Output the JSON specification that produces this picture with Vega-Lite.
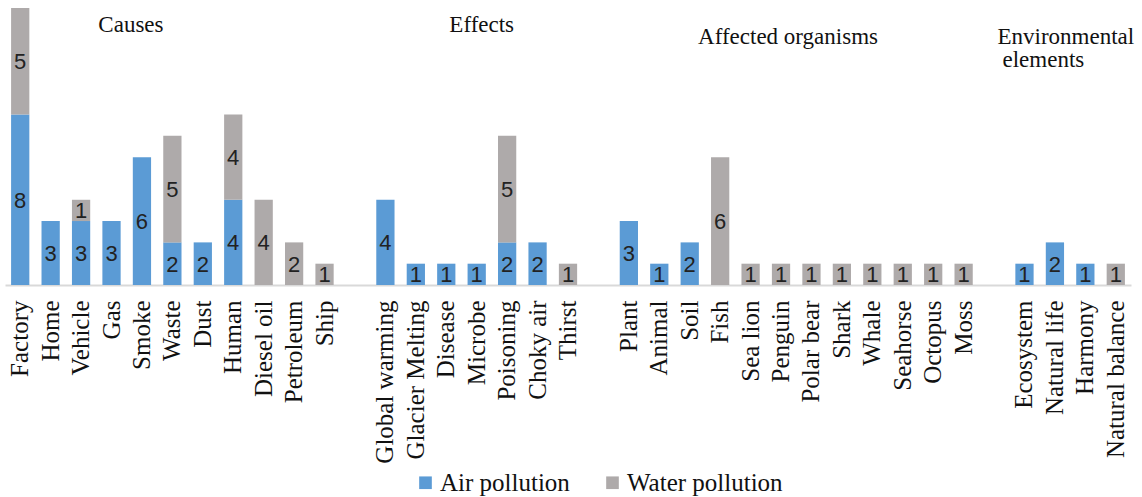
{
  "$schema": "https://vega.github.io/schema/vega-lite/v6.json",
  "width": 1126,
  "height": 277,
  "autosize": {"type": "none"},
  "padding": {"left": 5, "top": 8, "right": 11, "bottom": 212},
  "config": {
    "view": {"stroke": null},
    "font": "Liberation Serif",
    "legend": {"labelFont": "Liberation Serif", "labelFontSize": 25}
  },
  "datasets": {
    "counts": [
      {"item": "Factory", "type": "Air pollution", "value": 8},
      {"item": "Factory", "type": "Water pollution", "value": 5},
      {"item": "Home", "type": "Air pollution", "value": 3},
      {"item": "Vehicle", "type": "Air pollution", "value": 3},
      {"item": "Vehicle", "type": "Water pollution", "value": 1},
      {"item": "Gas", "type": "Air pollution", "value": 3},
      {"item": "Smoke", "type": "Air pollution", "value": 6},
      {"item": "Waste", "type": "Air pollution", "value": 2},
      {"item": "Waste", "type": "Water pollution", "value": 5},
      {"item": "Dust", "type": "Air pollution", "value": 2},
      {"item": "Human", "type": "Air pollution", "value": 4},
      {"item": "Human", "type": "Water pollution", "value": 4},
      {"item": "Diesel oil", "type": "Water pollution", "value": 4},
      {"item": "Petroleum", "type": "Water pollution", "value": 2},
      {"item": "Ship", "type": "Water pollution", "value": 1},
      {"item": "Global warming", "type": "Air pollution", "value": 4},
      {"item": "Glacier Melting", "type": "Air pollution", "value": 1},
      {"item": "Disease", "type": "Air pollution", "value": 1},
      {"item": "Microbe", "type": "Air pollution", "value": 1},
      {"item": "Poisoning", "type": "Air pollution", "value": 2},
      {"item": "Poisoning", "type": "Water pollution", "value": 5},
      {"item": "Choky air", "type": "Air pollution", "value": 2},
      {"item": "Thirst", "type": "Water pollution", "value": 1},
      {"item": "Plant", "type": "Air pollution", "value": 3},
      {"item": "Animal", "type": "Air pollution", "value": 1},
      {"item": "Soil", "type": "Air pollution", "value": 2},
      {"item": "Fish", "type": "Water pollution", "value": 6},
      {"item": "Sea lion", "type": "Water pollution", "value": 1},
      {"item": "Penguin", "type": "Water pollution", "value": 1},
      {"item": "Polar bear", "type": "Water pollution", "value": 1},
      {"item": "Shark", "type": "Water pollution", "value": 1},
      {"item": "Whale", "type": "Water pollution", "value": 1},
      {"item": "Seahorse", "type": "Water pollution", "value": 1},
      {"item": "Octopus", "type": "Water pollution", "value": 1},
      {"item": "Moss", "type": "Water pollution", "value": 1},
      {"item": "Ecosystem", "type": "Air pollution", "value": 1},
      {"item": "Natural life", "type": "Air pollution", "value": 2},
      {"item": "Harmony", "type": "Air pollution", "value": 1},
      {"item": "Natural balance", "type": "Water pollution", "value": 1}
    ],
    "causes": [{"item": "Smoke", "pos": 12.2, "label": "Causes"}],
    "effects": [{"item": "Microbe", "pos": 12.2, "label": "Effects"}],
    "organisms": [{"item": "Penguin", "pos": 11.65, "label": "Affected organisms"}],
    "env1": [{"item": "Ecosystem", "pos": 11.65, "label": "Environmental"}],
    "env2": [{"item": "Ecosystem", "pos": 10.55, "label": "elements"}]
  },
  "encoding": {
    "x": {
      "field": "item",
      "type": "nominal",
      "sort": null,
      "scale": {
        "domain": ["Factory", "Home", "Vehicle", "Gas", "Smoke", "Waste", "Dust", "Human", "Diesel oil", "Petroleum", "Ship", " ", "Global warming", "Glacier Melting", "Disease", "Microbe", "Poisoning", "Choky air", "Thirst", "  ", "Plant", "Animal", "Soil", "Fish", "Sea lion", "Penguin", "Polar bear", "Shark", "Whale", "Seahorse", "Octopus", "Moss", "   ", "Ecosystem", "Natural life", "Harmony", "Natural balance"],
        "paddingInner": 0.4,
        "paddingOuter": 0.2
      },
      "axis": {
        "title": null,
        "ticks": false,
        "labelAngle": -90,
        "labelFont": "Liberation Serif",
        "labelFontSize": 25,
        "labelColor": "#111111",
        "labelPadding": 15,
        "labelOverlap": false,
        "labelLimit": 0,
        "domainColor": "#D9D9D9",
        "domainWidth": 2,
        "grid": false
      }
    }
  },
  "layer": [
    {
      "data": {"name": "counts"},
      "mark": {"type": "bar"},
      "encoding": {
        "y": {"field": "value", "type": "quantitative", "stack": "zero", "scale": {"domain": [0, 13], "nice": false, "zero": true}, "axis": null},
        "color": {
          "field": "type",
          "type": "nominal",
          "scale": {"domain": ["Air pollution", "Water pollution"], "range": ["#5B9BD5", "#AEAAAA"]},
          "legend": {
            "orient": "none",
            "legendX": 408,
            "legendY": 462,
            "direction": "horizontal",
            "title": null,
            "symbolType": "square",
            "symbolSize": 160,
            "symbolStrokeWidth": 0,
            "labelFont": "Liberation Serif",
            "labelFontSize": 25,
            "labelColor": "#111111",
            "labelOffset": 2,
            "columnPadding": 30,
            "padding": 0,
            "labelLimit": 0
          }
        },
        "order": {"field": "type", "sort": "ascending"}
      }
    },
    {
      "data": {"name": "counts"},
      "mark": {"type": "text", "font": "Liberation Sans", "fontSize": 22, "color": "#222222", "baseline": "middle", "dy": 1},
      "encoding": {
        "y": {"field": "value", "type": "quantitative", "stack": "zero", "bandPosition": 0.5},
        "detail": {"field": "type"},
        "order": {"field": "type", "sort": "ascending"},
        "text": {"field": "value", "type": "quantitative"}
      }
    },
    {
      "data": {"name": "causes"},
      "mark": {"type": "text", "fontSize": 23, "color": "#111111", "baseline": "middle", "align": "center", "dx": -11},
      "encoding": {"y": {"field": "pos", "type": "quantitative"}, "text": {"field": "label"}}
    },
    {
      "data": {"name": "effects"},
      "mark": {"type": "text", "fontSize": 23, "color": "#111111", "baseline": "middle", "align": "center", "dx": 5},
      "encoding": {"y": {"field": "pos", "type": "quantitative"}, "text": {"field": "label"}}
    },
    {
      "data": {"name": "organisms"},
      "mark": {"type": "text", "fontSize": 23, "color": "#111111", "baseline": "middle", "align": "center", "dx": 7},
      "encoding": {"y": {"field": "pos", "type": "quantitative"}, "text": {"field": "label"}}
    },
    {
      "data": {"name": "env1"},
      "mark": {"type": "text", "fontSize": 23, "color": "#111111", "baseline": "middle", "align": "left", "dx": -27},
      "encoding": {"y": {"field": "pos", "type": "quantitative"}, "text": {"field": "label"}}
    },
    {
      "data": {"name": "env2"},
      "mark": {"type": "text", "fontSize": 23, "color": "#111111", "baseline": "middle", "align": "left", "dx": -22},
      "encoding": {"y": {"field": "pos", "type": "quantitative"}, "text": {"field": "label"}}
    }
  ]
}
